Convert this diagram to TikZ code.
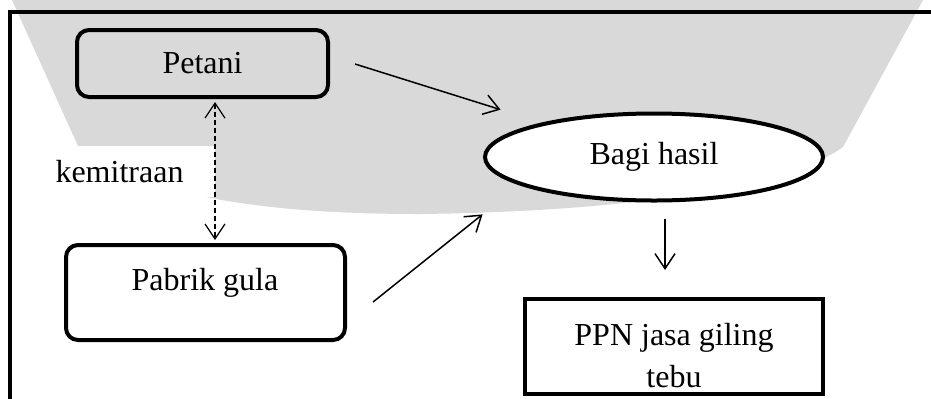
\documentclass[tikz,border=0pt]{standalone}
\usepackage{fontspec}
\setmainfont{Liberation Serif}
\usetikzlibrary{arrows.meta,calc,shapes.geometric}
\definecolor{wmgray}{RGB}{217,217,217}
\tikzset{
  thickbox/.style={draw=black,line width=2pt,inner sep=0pt},
  lbl/.style={inner sep=0pt,font=\fontsize{16}{21}\selectfont,align=center},
  arr/.style={line width=0.75pt,-{Straight Barb[length=7.5pt,width=10pt]}},
  dasharr/.style={line width=0.6pt,dash pattern=on 2.5pt off 1.5pt,
    {Straight Barb[length=7.5pt,width=10pt]}-{Straight Barb[length=7.5pt,width=10pt]}}
}
\begin{document}
\begin{tikzpicture}[x=0.5pt,y=-0.5pt]
\clip (0,0) rectangle (931,398);
\fill[white] (0,0) rectangle (931,398);
% watermark background
\fill[wmgray] (12,0) -- (923,0) -- (843,147)
  .. controls (780,192) and (600,212) .. (420,214)
  .. controls (280,214) and (150,200) .. (78,146) -- cycle;
% outer frame
\draw[line width=2.2pt] (10,12) rectangle (945,415);
% nodes
\node[thickbox,rounded corners=6pt,minimum width=125.5pt,minimum height=33.5pt,lbl]
  (petani) at (202.5,63.5) {Petani};
\node[thickbox,rounded corners=6pt,minimum width=139.5pt,minimum height=47.5pt]
  (pabrik) at (205.5,292.5) {};
\node[lbl] (pabriktxt) at (205,283) {Pabrik gula};
\node[fill=white,minimum width=101.5pt,minimum height=25.5pt,lbl]
  (kemitraan) at (113.5,171.5) {\hspace*{6pt}kemitraan};
\node[thickbox,ellipse,fill=white,minimum width=169pt,minimum height=43.5pt,lbl]
  (bagi) at (654,157) {Bagi hasil};
\node[thickbox,fill=white,minimum width=149pt,minimum height=47.5pt]
  (ppn) at (674,346.5) {};
\node[lbl] (ppntxt) at (674,356) {PPN jasa giling\\tebu};
% connector ends
\coordinate (a1s) at ($(petani.east)+(25,0.5)$);
\coordinate (a1e) at ($(bagi.north west)+(-32.5,-15.2)$);
\coordinate (a2s) at ($(pabrik.east)+(26,9.5)$);
\coordinate (a2e) at ($(bagi.south west)+(-50.5,25.2)$);
\coordinate (a3s) at ($(bagi.south)+(11,16.5)$);
\coordinate (a3e) at ($(ppn.north)+(-9,-27)$);
\coordinate (d1) at ($(petani.south)+(12.5,3)$);
\coordinate (d2) at ($(pabrik.north)+(9.5,-3)$);
% connectors
\draw[arr] (a1s) -- (a1e);
\draw[arr] (a2s) -- (a2e);
\draw[arr] (a3s) -- (a3e);
\draw[dasharr] (d1) -- (d2);
\end{tikzpicture}
\end{document}
